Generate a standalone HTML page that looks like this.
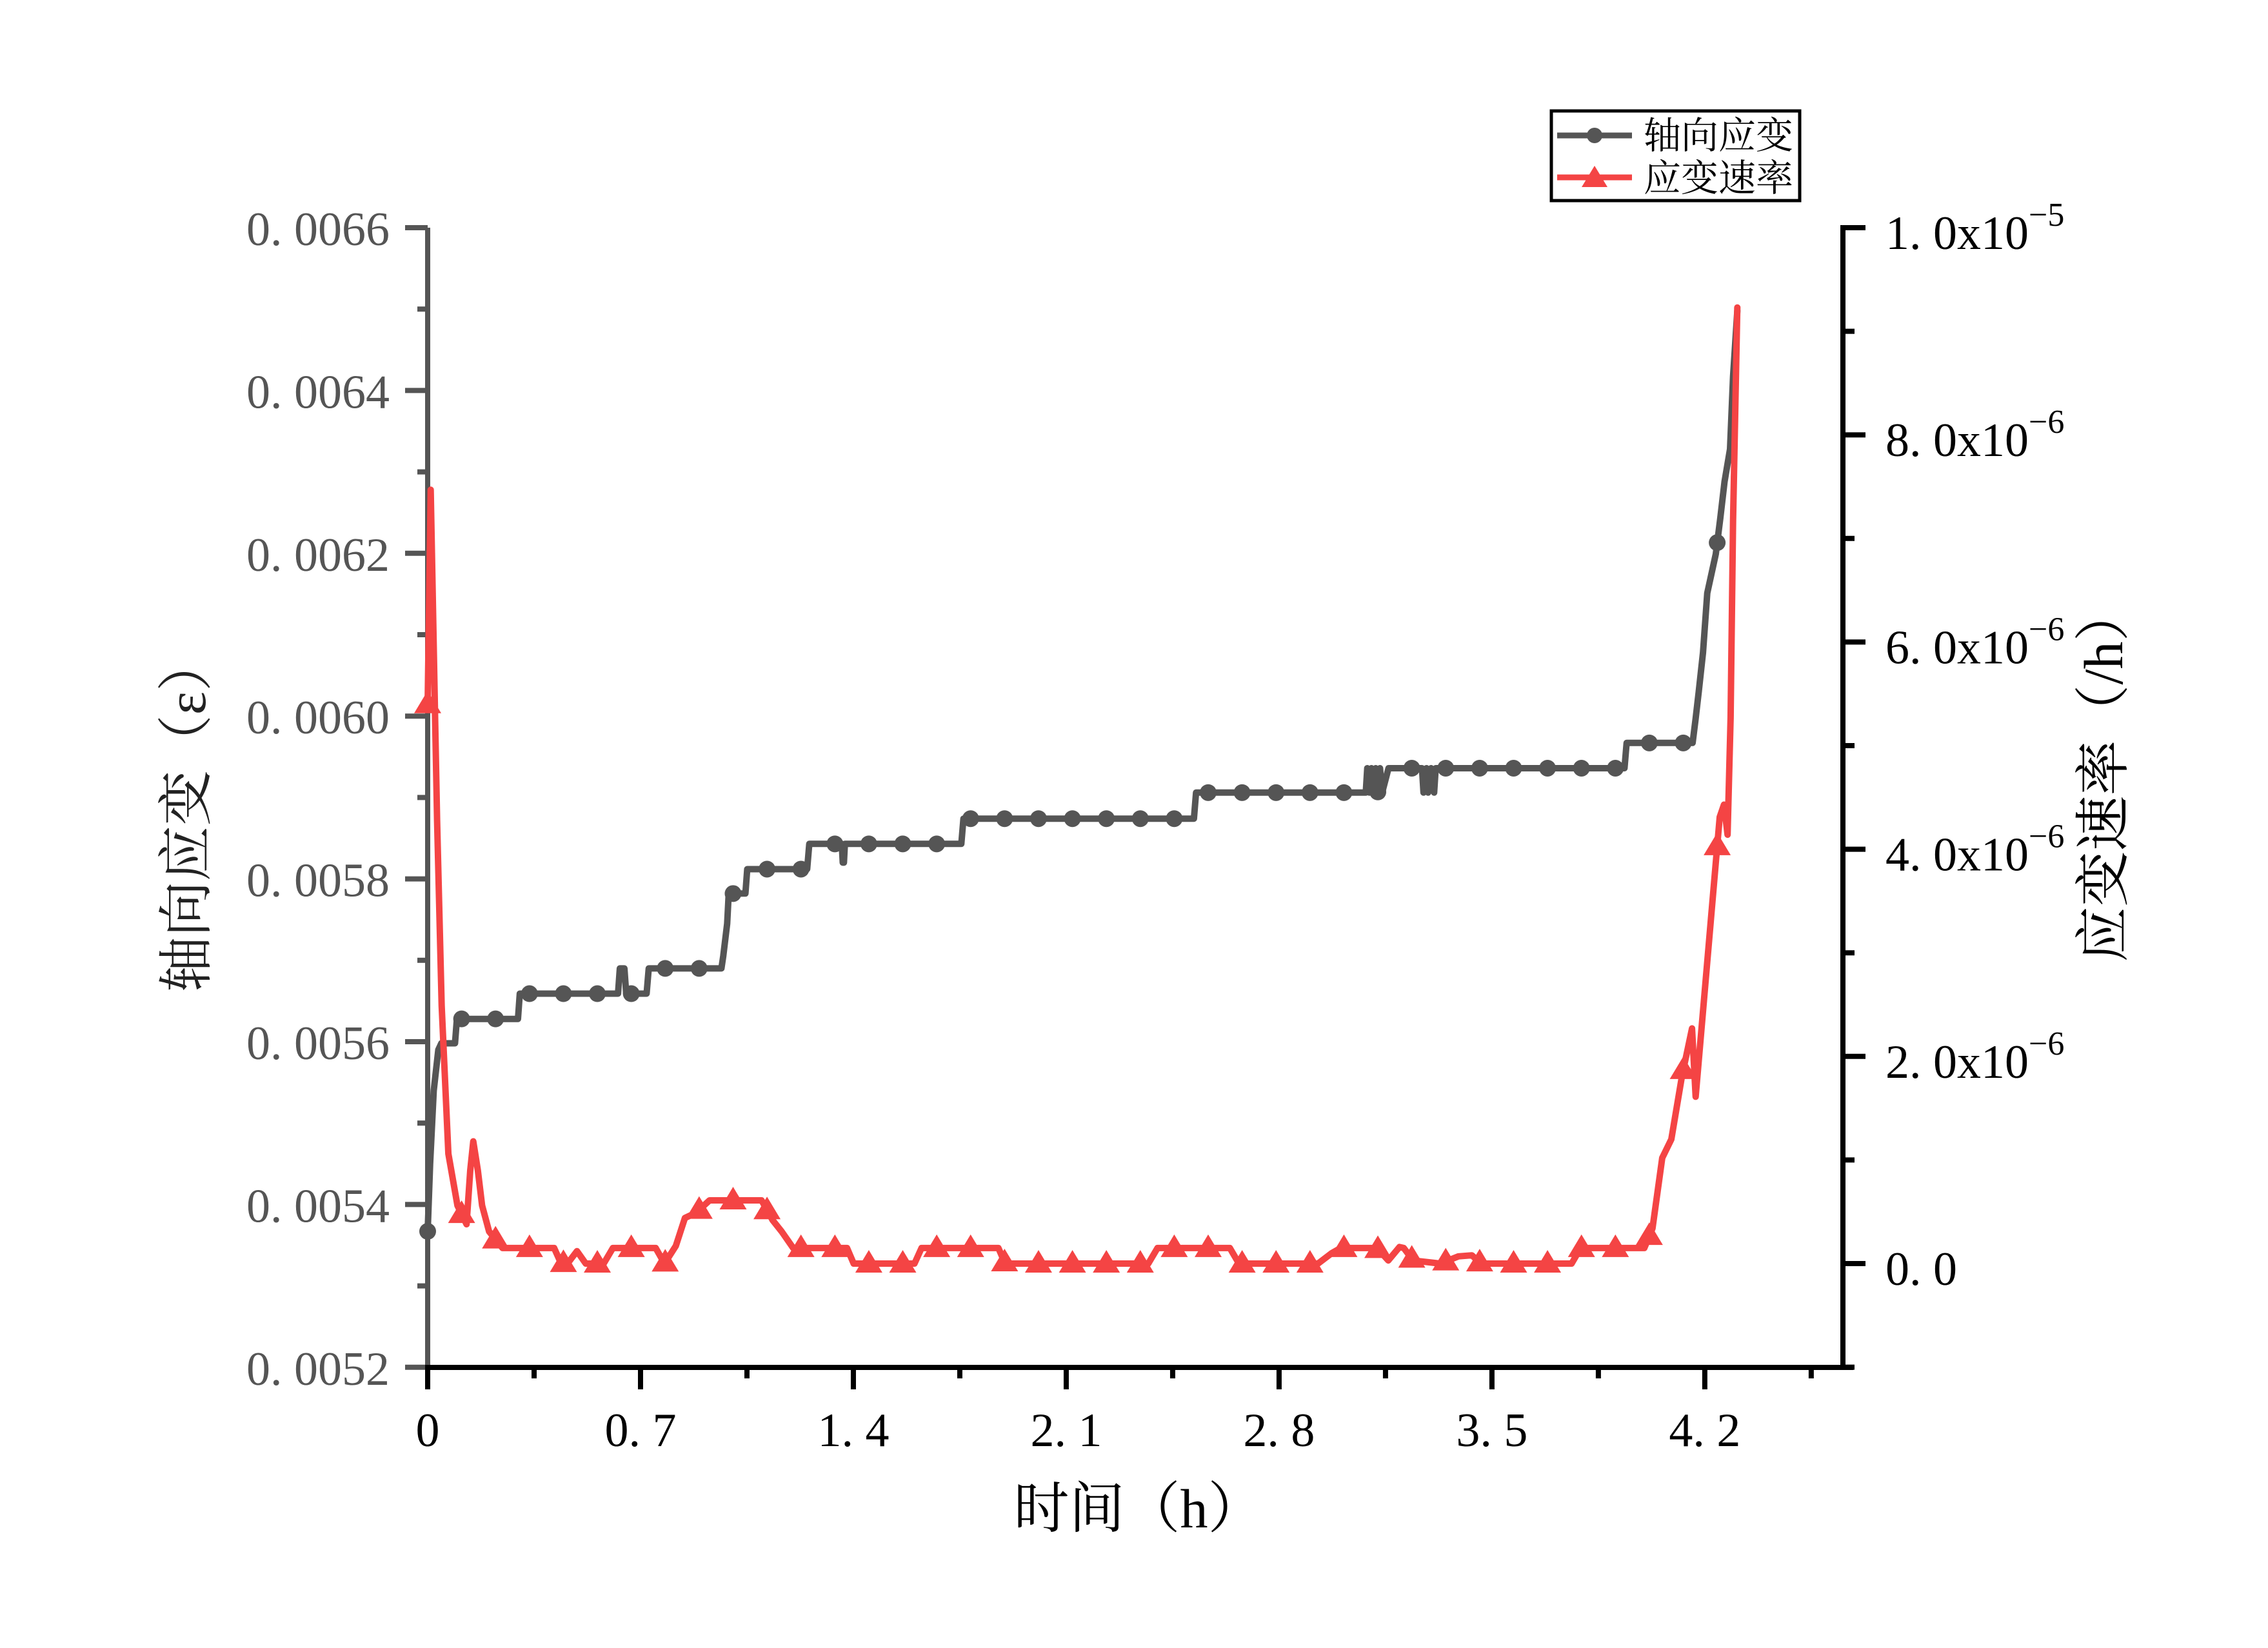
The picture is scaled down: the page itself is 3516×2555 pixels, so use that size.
<!DOCTYPE html>
<html><head><meta charset="utf-8"><style>
html,body{margin:0;padding:0;background:#fff;}
svg{display:block;}
</style></head><body>
<svg id="chart" xmlns="http://www.w3.org/2000/svg" width="3516" height="2555" viewBox="0 0 3516 2555">
<rect x="0" y="0" width="3516" height="2555" fill="#fff"/>
<g id="axes"></g>
<g id="series"></g>
<g id="legend">
  <rect x="2405" y="172" width="385" height="139" fill="#fff" stroke="#000" stroke-width="5"/>
  <g>
    <line x1="2414" y1="210" x2="2530" y2="210" stroke="#555" stroke-width="9"/>
    <circle cx="2472" cy="210" r="12" fill="#555"/>
    <text x="2548" y="230" font-family="'Liberation Serif','Noto Serif CJK SC',serif" font-size="58" fill="#000">轴向应变</text>
  </g>
  <g>
    <line x1="2414" y1="275" x2="2530" y2="275" stroke="#f44444" stroke-width="9"/>
    <polygon points="2472,257 2492,290 2452,290" fill="#f44444"/>
    <text x="2548" y="296" font-family="'Liberation Serif','Noto Serif CJK SC',serif" font-size="58" fill="#000">应变速率</text>
  </g>
</g>
<text x="1765" y="2368" text-anchor="middle" font-family="'Liberation Serif','Noto Serif CJK SC',serif" font-size="86" fill="#000">时间（h）</text>
<text transform="translate(318,1262) rotate(-90)" text-anchor="middle" font-family="'Liberation Serif','Noto Serif CJK SC',serif" font-size="86" fill="#222">轴向应变（ε）</text>
<text transform="translate(3290,1200) rotate(-90)" text-anchor="middle" font-family="'Liberation Serif','Noto Serif CJK SC',serif" font-size="86" fill="#000">应变速率（/h）</text>
</svg>
<script>
const xTicks = [0, 0.7, 1.4, 2.1, 2.8, 3.5, 4.2];
const xTickLabels = ["0", "0. 7", "1. 4", "2. 1", "2. 8", "3. 5", "4. 2"];
const leftTicks = [0.0052, 0.0054, 0.0056, 0.0058, 0.0060, 0.0062, 0.0064, 0.0066];
const leftTickLabels = ["0. 0052", "0. 0054", "0. 0056", "0. 0058", "0. 0060", "0. 0062", "0. 0064", "0. 0066"];
const rightTicks = [0, 2, 4, 6, 8, 10];
const rightTickMain = ["0. 0", "2. 0x10", "4. 0x10", "6. 0x10", "8. 0x10", "1. 0x10"];
const rightTickExp = ["", "-6", "-6", "-6", "-6", "-5"];

const strainT = [0,0.008,0.02,0.035,0.045,0.09,0.096,0.297,0.303,0.626,0.632,0.647,0.653,0.72,0.727,0.966,0.972,0.985,0.99,1.045,1.051,1.248,1.255,1.362,1.365,1.369,1.372,1.755,1.762,2.52,2.527,3.085,3.09,3.097,3.104,3.111,3.118,3.125,3.132,3.139,3.16,3.27,3.275,3.285,3.29,3.30,3.31,3.315,3.33,3.936,3.943,4.16,4.17,4.18,4.194,4.208,4.236,4.251,4.265,4.283,4.293,4.307];
const strainV = [0.005367,0.00545,0.00554,0.00559,0.005598,0.005598,0.005628,0.005628,0.005659,0.005659,0.00569,0.00569,0.005659,0.005659,0.00569,0.00569,0.005705,0.005745,0.005782,0.005782,0.005812,0.005812,0.005843,0.005843,0.00582,0.00582,0.005843,0.005843,0.005874,0.005874,0.005906,0.005906,0.005936,0.005906,0.005936,0.005906,0.005936,0.005906,0.005936,0.005906,0.005936,0.005936,0.005906,0.005936,0.005906,0.005936,0.005906,0.005936,0.005936,0.005936,0.005967,0.005967,0.005997,0.00603,0.006078,0.006151,0.006199,0.006243,0.006288,0.006328,0.006417,0.006498];

const rateT = [0,0.01,0.031,0.046,0.068,0.098,0.128,0.14,0.15,0.165,0.179,0.202,0.246,0.416,0.439,0.465,0.491,0.52,0.579,0.609,0.75,0.779,0.816,0.846,0.882,0.927,1.098,1.134,1.164,1.202,1.379,1.401,1.601,1.624,1.877,1.899,2.37,2.40,2.638,2.668,2.928,2.973,3.003,3.122,3.159,3.196,3.21,3.241,3.33,3.39,3.434,3.464,3.762,3.792,4.001,4.028,4.06,4.09,4.125,4.158,4.170,4.249,4.263,4.275,4.285,4.293,4.307];
const rateV = [5.4,7.47,4.28,2.49,1.06,0.56,0.38,0.9,1.18,0.9,0.56,0.31,0.15,0.15,0,0.02,0.12,0,0,0.15,0.15,0,0.17,0.44,0.49,0.61,0.61,0.42,0.31,0.15,0.15,0,0,0.15,0.15,0,0,0.15,0.15,0,0,0.1,0.15,0.15,0.03,0.16,0.15,0.03,0,0.07,0.08,0,0,0.15,0.15,0.34,1.02,1.2,1.81,2.27,1.61,4.31,4.43,4.14,5.27,7.17,9.23];

const markerStep = 0.1116;

const X0 = 663, PXH = 471.4;
function xs(t){ return X0 + t*PXH; }
function yL(v){ return 353 + (0.0066 - v)/0.0002*252.4; }
function yR(r){ return 1959 - r*160.6; }
const NS = "http://www.w3.org/2000/svg";
function mk(tag, attrs, parent){ const e=document.createElementNS(NS,tag); for(const k in attrs) e.setAttribute(k,attrs[k]); parent.appendChild(e); return e; }
function interp(T,V,t){ for(let i=1;i<T.length;i++){ if(t<=T[i]){ const f=(t-T[i-1])/(T[i]-T[i-1]||1); return V[i-1]+f*(V[i]-V[i-1]); } } return V[V.length-1]; }

const axes = document.getElementById('axes');
const series = document.getElementById('series');
const FONT = "'Liberation Serif','Noto Serif CJK SC',serif";

let la = mk('line',{x1:663,y1:353,x2:663,y2:2120,stroke:'#555','stroke-width':8},axes);


for(let i=0;i<leftTicks.length;i++){
  const y=yL(leftTicks[i]);
  let tk=mk('line',{x1:628,y1:y,x2:663,y2:y,stroke:'#555','stroke-width':8},axes);
  
  
  let tx=mk('text',{x:604,y:y+27,'text-anchor':'end','font-family':FONT,'font-size':74,fill:'#555'},axes);
  tx.textContent=leftTickLabels[i];
  
  
  if(i<leftTicks.length-1){
    const ym=yL(leftTicks[i]+0.0001);
    let mt=mk('line',{x1:647,y1:ym,x2:663,y2:ym,stroke:'#555','stroke-width':8},axes);
    
    
  }
}
let ba = mk('line',{x1:659,y1:2120,x2:2873,y2:2120,stroke:'#000','stroke-width':8},axes);


for(let i=0;i<xTicks.length;i++){
  const x=xs(xTicks[i]);
  let tk=mk('line',{x1:x,y1:2120,x2:x,y2:2154,stroke:'#000','stroke-width':8},axes);
  
  
  let tx=mk('text',{x:x,y:2242,'text-anchor':'middle','font-family':FONT,'font-size':74,fill:'#000'},axes);
  tx.textContent=xTickLabels[i];
  
  
  const xm=xs(xTicks[i]+0.35);
  let mt=mk('line',{x1:xm,y1:2120,x2:xm,y2:2137,stroke:'#000','stroke-width':8},axes);
  
  
}
let ra = mk('line',{x1:2857,y1:349,x2:2857,y2:2120,stroke:'#000','stroke-width':8},axes);


for(let i=0;i<rightTicks.length;i++){
  const y=yR(rightTicks[i]);
  let tk=mk('line',{x1:2857,y1:y,x2:2892,y2:y,stroke:'#000','stroke-width':8},axes);
  
  
  let tx=mk('text',{x:2923,y:y+33,'font-family':FONT,'font-size':74,fill:'#000'},axes);
  
  
  const s1=mk('tspan',{},tx); s1.textContent=rightTickMain[i];
  if(rightTickExp[i]){ const s2=mk('tspan',{dy:-36,'font-size':52},tx); s2.textContent=rightTickExp[i].replace('-','\u2212'); }
  const ym=yR(rightTicks[i]-1);
  let mt=mk('line',{x1:2857,y1:ym,x2:2875,y2:ym,stroke:'#000','stroke-width':8},axes);
  
  
}

let sp=strainT.map((t,i)=>xs(t).toFixed(1)+','+yL(strainV[i]).toFixed(1)).join(' ');
let sl=mk('polyline',{points:sp,fill:'none',stroke:'#555','stroke-width':10,'stroke-linejoin':'round','stroke-linecap':'round'},series);


let rp=rateT.map((t,i)=>xs(t).toFixed(1)+','+yR(rateV[i]).toFixed(1)).join(' ');
let rl=mk('polyline',{points:rp,fill:'none',stroke:'#f44444','stroke-width':10,'stroke-linejoin':'round','stroke-linecap':'round'},series);



const tEndS=strainT[strainT.length-1], tEndR=rateT[rateT.length-1];
for(let k=0;k*markerStep<=tEndS;k++){
  const t=k*markerStep;
  let c=mk('circle',{cx:xs(t),cy:yL(interp(strainT,strainV,t)),r:13,fill:'#555'},series);
  
  
}
for(let k=0;k*markerStep<=tEndR;k++){
  const t=k*markerStep;
  const x=xs(t), y=yR(interp(rateT,rateV,t));
  let p=mk('polygon',{points:`${x},${y-21} ${x+21},${y+14} ${x-21},${y+14}`,fill:'#f44444'},series);
  
  
}
</script>
</body></html>
